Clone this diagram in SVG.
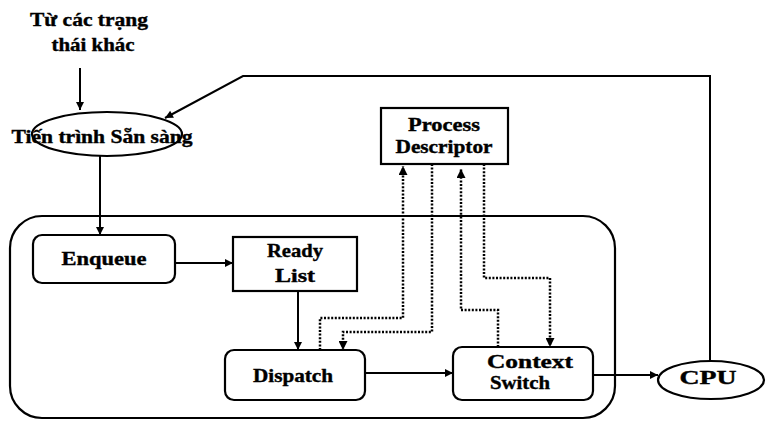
<svg xmlns="http://www.w3.org/2000/svg" width="767" height="423" viewBox="0 0 767 423">
<defs>
<marker id="arr" viewBox="0 0 10 10" refX="10" refY="5" markerWidth="9" markerHeight="8" markerUnits="userSpaceOnUse" orient="auto"><path d="M0,0 L10,5 L0,10 z" fill="#000"/></marker>
<marker id="arrd" viewBox="0 0 10 10" refX="10" refY="5" markerWidth="9" markerHeight="9" markerUnits="userSpaceOnUse" orient="auto"><path d="M0,0 L10,5 L0,10 z" fill="#000"/></marker>
</defs>
<style>
.box{fill:#fff;stroke:#000;stroke-width:2.2}
.ln{fill:none;stroke:#000;stroke-width:2}
.dot{fill:none;stroke:#000;stroke-width:2.5;stroke-dasharray:2 1.6}
text{font-family:"Liberation Serif","Times New Roman",serif;font-weight:bold;font-size:19px;fill:#000;text-anchor:middle;stroke:#000;stroke-width:0.4}
</style>
<rect x="0" y="0" width="767" height="423" fill="#fff"/>
<g id="container"><rect class="box" x="10" y="216" width="605" height="202" rx="32" ry="32" fill="none"/></g>
<g id="source"><text x="89" y="26" textLength="118" lengthAdjust="spacingAndGlyphs">Từ các trạng</text><text x="93" y="51" textLength="83" lengthAdjust="spacingAndGlyphs">thái khác</text></g>
<g id="ready-state"><ellipse class="box" cx="107" cy="134" rx="75" ry="22"/><text x="102" y="143" textLength="181" lengthAdjust="spacingAndGlyphs">Tiến trình Sẵn sàng</text></g>
<g id="process-descriptor"><rect class="box" x="381" y="108" width="127" height="56"/><text x="444" y="131" textLength="72" lengthAdjust="spacingAndGlyphs">Process</text><text x="444" y="153" textLength="97" lengthAdjust="spacingAndGlyphs">Descriptor</text></g>
<g id="enqueue"><rect class="box" x="33" y="235" width="142" height="48" rx="9"/><text x="104" y="265" textLength="85" lengthAdjust="spacingAndGlyphs">Enqueue</text></g>
<g id="ready-list"><rect class="box" x="233" y="237" width="124" height="54"/><text x="295" y="257" textLength="56" lengthAdjust="spacingAndGlyphs">Ready</text><text x="295" y="282" textLength="40" lengthAdjust="spacingAndGlyphs">List</text></g>
<g id="dispatch"><rect class="box" x="225" y="350" width="140" height="50" rx="9"/><text x="293" y="382" textLength="80" lengthAdjust="spacingAndGlyphs">Dispatch</text></g>
<g id="context-switch"><rect class="box" x="453" y="347" width="140" height="53" rx="9"/><text x="530" y="368" textLength="86" lengthAdjust="spacingAndGlyphs">Context</text><text x="520" y="389" textLength="60" lengthAdjust="spacingAndGlyphs">Switch</text></g>
<g id="cpu"><ellipse class="box" cx="711" cy="380" rx="53" ry="19"/><text x="708" y="384" textLength="57" lengthAdjust="spacingAndGlyphs">CPU</text></g>
<g id="connectors">
<path class="ln" d="M80,68 V110" marker-end="url(#arr)"/>
<path class="ln" d="M100,156 V235" marker-end="url(#arr)"/>
<path class="ln" d="M175,263 H233" marker-end="url(#arr)"/>
<path class="ln" d="M298,291 V350" marker-end="url(#arr)"/>
<path class="ln" d="M365,373 H453" marker-end="url(#arr)"/>
<path class="ln" d="M593,375 H658" marker-end="url(#arr)"/>
<path class="ln" d="M710,361 V76 H243 L165,118" marker-end="url(#arr)"/>
<path class="dot" d="M320,350 V318 H403 V166" marker-end="url(#arrd)"/>
<path class="dot" d="M432,164 V332 H343 V350" marker-end="url(#arrd)"/>
<path class="dot" d="M498,347 V310 H461 V169" marker-end="url(#arrd)"/>
<path class="dot" d="M484,164 V278 H550 V347" marker-end="url(#arrd)"/>
</g>
</svg>
